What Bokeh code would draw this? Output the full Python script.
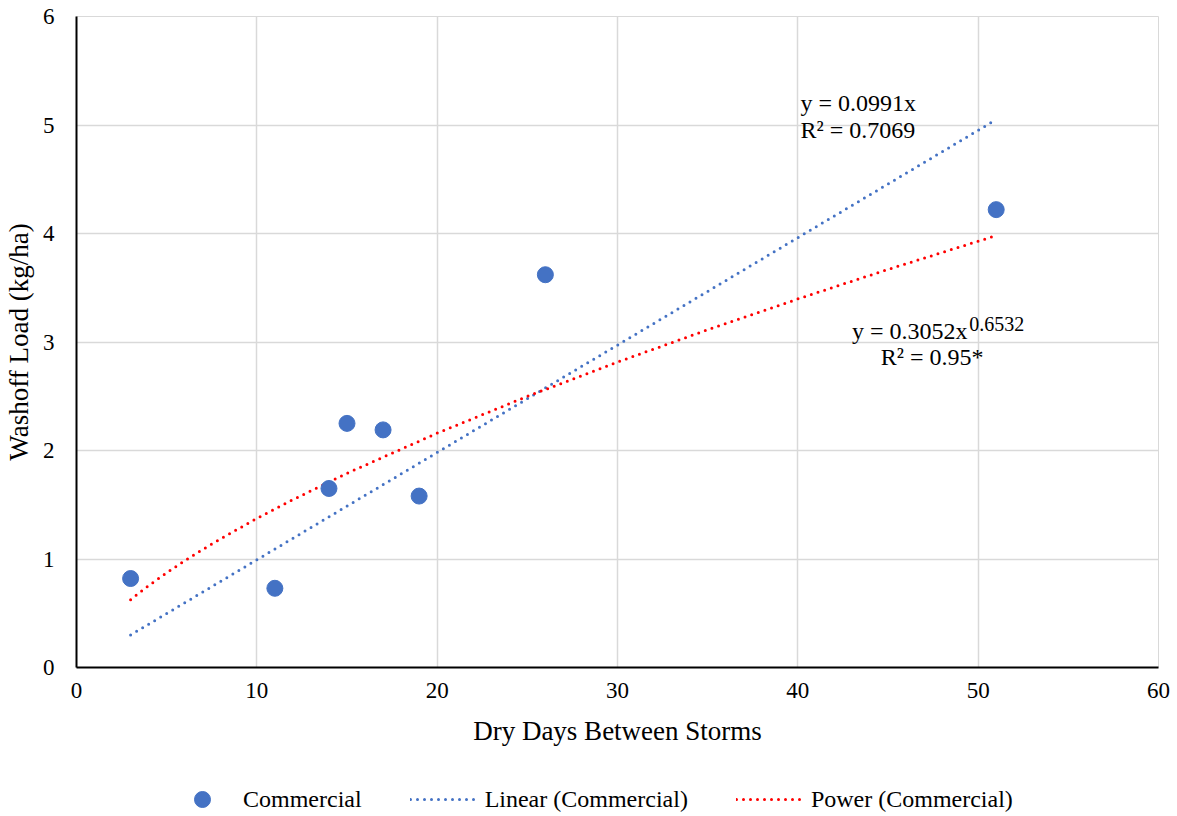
from bokeh.plotting import figure
from bokeh.models import Range1d, Legend, LegendItem, FixedTicker, Label
from bokeh.layouts import column
from bokeh.embed import file_html
from bokeh.resources import INLINE

# ---- data ----
dry_days = [3, 11, 14, 15, 17, 19, 26, 51]
washoff = [0.82, 0.73, 1.65, 2.25, 2.19, 1.58, 3.62, 4.22]

# linear trendline (Commercial) end points
lin_x = [3, 51]
lin_y = [0.30, 5.05]

# power trendline (Commercial) points
pow_x = [3, 4, 5, 6, 7, 8, 10, 12, 15, 20, 25, 30, 35, 40, 45, 51]
pow_y = [0.625, 0.755, 0.873, 0.984, 1.088, 1.187, 1.374, 1.547, 1.790, 2.160,
         2.499, 2.815, 3.113, 3.397, 3.669, 3.981]

x_ticks = [0, 10, 20, 30, 40, 50, 60]
y_ticks = [0, 1, 2, 3, 4, 5, 6]

series_names = ["Commercial", "Linear (Commercial)", "Power (Commercial)"]

BLUE = "#4472C4"
RED = "#FF0000"
GRID = "#D9D9D9"
FONT = "Liberation Serif"

p = figure(width=1177, height=750, x_range=Range1d(0, 60), y_range=Range1d(0, 6),
           output_backend="svg", toolbar_location=None,
           min_border_left=75, min_border_right=19, min_border_top=16, min_border_bottom=83)

p.outline_line_color = GRID
p.background_fill_color = "white"
p.border_fill_color = "white"

for ax in (p.xaxis[0], p.yaxis[0]):
    ax.axis_line_color = "black"
    ax.axis_line_width = 2
    ax.major_tick_line_color = None
    ax.minor_tick_line_color = None
    ax.major_tick_out = 0
    ax.major_tick_in = 0
    ax.minor_tick_out = 0
    ax.minor_tick_in = 0
    ax.major_label_text_font = FONT
    ax.major_label_text_font_size = "23px"
    ax.major_label_text_color = "black"
    ax.axis_label_text_font = FONT
    ax.axis_label_text_font_size = "27px"
    ax.axis_label_text_font_style = "normal"
    ax.axis_label_text_color = "black"

p.xaxis.ticker = FixedTicker(ticks=x_ticks)
p.yaxis.ticker = FixedTicker(ticks=y_ticks)
p.xaxis.axis_label = "Dry Days Between Storms"
p.yaxis.axis_label = "Washoff Load (kg/ha)"
p.xaxis.major_label_standoff = 15
p.yaxis.major_label_standoff = 22
p.xaxis.axis_label_standoff = 15
p.yaxis.axis_label_standoff = 6

p.xgrid.ticker = FixedTicker(ticks=x_ticks)
p.ygrid.ticker = FixedTicker(ticks=y_ticks)
p.grid.grid_line_color = GRID
p.grid.grid_line_width = 1.5

line_kw = dict(line_width=3, line_dash="0 7", line_cap="round")
p.line(lin_x, lin_y, line_color=BLUE, **line_kw)
p.line(pow_x, pow_y, line_color=RED, line_join="round", **line_kw)
p.scatter(dry_days, washoff, size=16, fill_color=BLUE, line_color=BLUE)

# equation labels
lab_kw = dict(text_font=FONT, text_font_size="24px", text_color="black", text_baseline="middle")
p.add_layout(Label(x=40.15, y=5.20, text="y = 0.0991x", **lab_kw))
p.add_layout(Label(x=40.15, y=4.95, text="R² = 0.7069", **lab_kw))
p.add_layout(Label(x=43.0, y=3.10, text="y = 0.3052x", **lab_kw))
p.add_layout(Label(x=49.5, y=3.17, text="0.6532", text_font=FONT, text_font_size="20px",
                   text_color="black", text_baseline="middle"))
p.add_layout(Label(x=44.6, y=2.86, text="R² = 0.95*", **lab_kw))

# ---- legend strip below the chart (its glyphs reuse the series, kept off-frame) ----
lg = figure(width=1177, height=66, x_range=Range1d(-100, -99), y_range=Range1d(-100, -99),
            x_axis_type=None, y_axis_type=None,
            output_backend="svg", toolbar_location=None,
            min_border_left=0, min_border_right=0, min_border_top=0, min_border_bottom=0)
lg.grid.visible = False
lg.outline_line_color = None
lg.border_fill_color = "white"
lg.background_fill_color = "white"
lg_pts = lg.scatter(dry_days, washoff, size=16, fill_color=BLUE, line_color=BLUE)
lg_lin = lg.line(lin_x, lin_y, line_color=BLUE, **line_kw)
lg_pow = lg.line(pow_x, pow_y, line_color=RED, **line_kw)

legend = Legend(items=[LegendItem(label=series_names[0], renderers=[lg_pts]),
                       LegendItem(label=series_names[1], renderers=[lg_lin]),
                       LegendItem(label=series_names[2], renderers=[lg_pow])],
                orientation="horizontal", location=(92, -3),
                glyph_width=68, glyph_height=40, label_standoff=7, spacing=48,
                label_text_font=FONT, label_text_font_size="24px", label_text_color="black",
                border_line_color=None, background_fill_alpha=0, margin=0, padding=0)
lg.add_layout(legend, "center")

open("out.html", "w").write(file_html(column(p, lg, spacing=0), INLINE))
